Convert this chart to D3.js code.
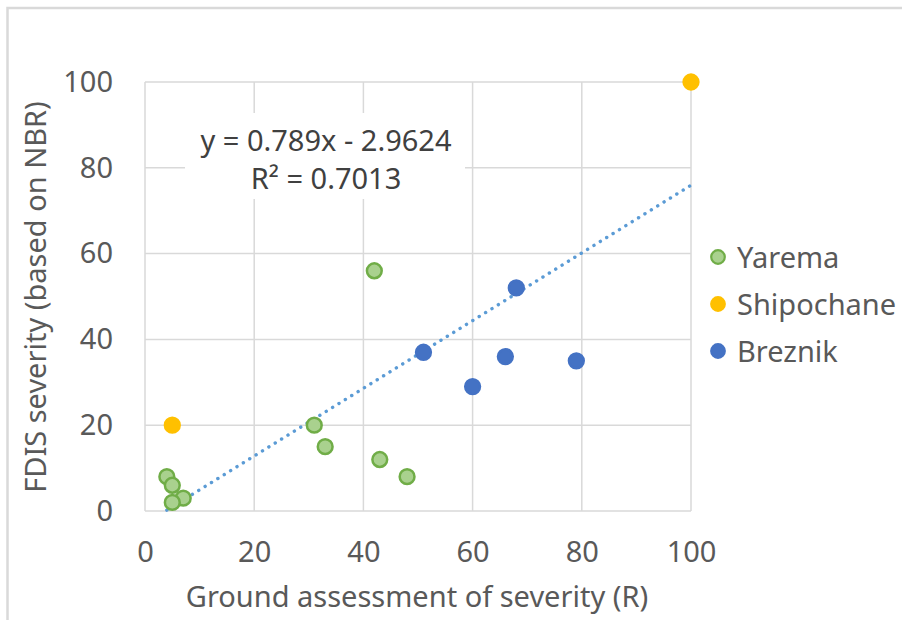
<!DOCTYPE html>
<html>
<head>
<meta charset="utf-8">
<script src="https://cdn.jsdelivr.net/npm/d3@7"></script>
<style>
  body { margin: 0; background: #fff; }
  text { font-family: "Noto Sans", "Open Sans", sans-serif; }
</style>
</head>
<body>
<svg id="chart"></svg>
<script>
const W = 902, H = 620;

// data
const yaremaX = [42, 31, 33, 43, 48, 4, 5, 7, 5];
const yaremaY = [56, 20, 15, 12, 8, 8, 6, 3, 2];
const shipX = [5, 100];
const shipY = [20, 100];
const breznikX = [51, 68, 60, 66, 79];
const breznikY = [37, 52, 29, 36, 35];
const xTicks = [0, 20, 40, 60, 80, 100];
const yTicks = [0, 20, 40, 60, 80, 100];
const slope = 0.789, intercept = -2.9624;
const seriesNames = ["Yarema", "Shipochane", "Breznik"];

const series = [
  { name: seriesNames[0], xs: yaremaX, ys: yaremaY, fill: "#A9D18E", stroke: "#70AD47" },
  { name: seriesNames[1], xs: shipX, ys: shipY, fill: "#FFC000", stroke: "#FFC000" },
  { name: seriesNames[2], xs: breznikX, ys: breznikY, fill: "#4472C4", stroke: "#4472C4" }
];

const fontSize = "29px";
const svg = d3.select("#chart").attr("width", W).attr("height", H);

// outer frame (only top and left edges show)
svg.append("path")
  .attr("d", `M7.5,${H} L7.5,8 L${W},8`)
  .attr("fill", "none").attr("stroke", "#D9D9D9").attr("stroke-width", 2.5);

const x = d3.scaleLinear().domain([0, 100]).range([145, 691]);
const y = d3.scaleLinear().domain([0, 100]).range([511, 82]);

// gridlines
const grid = svg.append("g");
grid.selectAll(".gx").data(xTicks).enter().append("line")
  .attr("x1", d => x(d)).attr("x2", d => x(d))
  .attr("y1", y(0)).attr("y2", y(100))
  .attr("stroke", "#D9D9D9").attr("stroke-width", 1.5);
grid.selectAll(".gy").data(yTicks).enter().append("line")
  .attr("y1", d => y(d)).attr("y2", d => y(d))
  .attr("x1", x(0)).attr("x2", x(100))
  .attr("stroke", "#D9D9D9").attr("stroke-width", 1.5);

// axes (labels only)
const xAxis = svg.append("g")
  .attr("transform", `translate(0,${y(0)})`)
  .call(d3.axisBottom(x).tickValues(xTicks).tickSize(0).tickPadding(30));
const yAxis = svg.append("g")
  .attr("transform", `translate(${x(0)},0)`)
  .call(d3.axisLeft(y).tickValues(yTicks).tickSize(0).tickPadding(32));
[xAxis, yAxis].forEach(a => {
  a.select(".domain").remove();
  a.selectAll("text").attr("fill", "#595959").style("font-size", fontSize);
});

// trendline
const xMin = d3.min(series.flatMap(s => s.xs));
svg.append("line")
  .attr("x1", x(xMin)).attr("y1", y(slope * xMin + intercept))
  .attr("x2", x(100)).attr("y2", y(slope * 100 + intercept))
  .attr("stroke", "#5B9BD5").attr("stroke-width", 3.4)
  .attr("stroke-linecap", "round").attr("stroke-dasharray", "0.1 7.4");

// points
series.forEach(s => {
  svg.append("g").selectAll("circle")
    .data(s.xs.map((v, i) => [v, s.ys[i]]))
    .enter().append("circle")
    .attr("cx", d => x(d[0])).attr("cy", d => y(d[1]))
    .attr("r", 7.4)
    .attr("fill", s.fill).attr("stroke", s.stroke).attr("stroke-width", 2.5);
});

// equation label
const eq = svg.append("g");
eq.append("rect").attr("x", 185).attr("y", 113).attr("width", 280).attr("height", 86).attr("fill", "#fff");
eq.append("text").attr("x", 326).attr("y", 151).attr("text-anchor", "middle")
  .attr("fill", "#404040").style("font-size", fontSize).text("y = 0.789x - 2.9624");
eq.append("text").attr("x", 326).attr("y", 189).attr("text-anchor", "middle")
  .attr("fill", "#404040").style("font-size", fontSize).text("R² = 0.7013");

// axis titles
svg.append("text").attr("x", 417).attr("y", 607).attr("text-anchor", "middle")
  .attr("fill", "#595959").style("font-size", fontSize).text("Ground assessment of severity (R)");
svg.append("text")
  .attr("transform", `translate(46,${297}) rotate(-90)`)
  .attr("text-anchor", "middle")
  .attr("fill", "#595959").style("font-size", fontSize).text("FDIS severity (based on NBR)");

// legend
const legend = svg.append("g");
series.forEach((s, i) => {
  const ly = 257 + i * 47;
  legend.append("circle").attr("cx", 718).attr("cy", ly).attr("r", 6.8)
    .attr("fill", s.fill).attr("stroke", s.stroke).attr("stroke-width", 2.2);
  legend.append("text").attr("x", 737).attr("y", ly + 11)
    .attr("fill", "#595959").style("font-size", fontSize).text(s.name);
});
</script>
</body>
</html>
